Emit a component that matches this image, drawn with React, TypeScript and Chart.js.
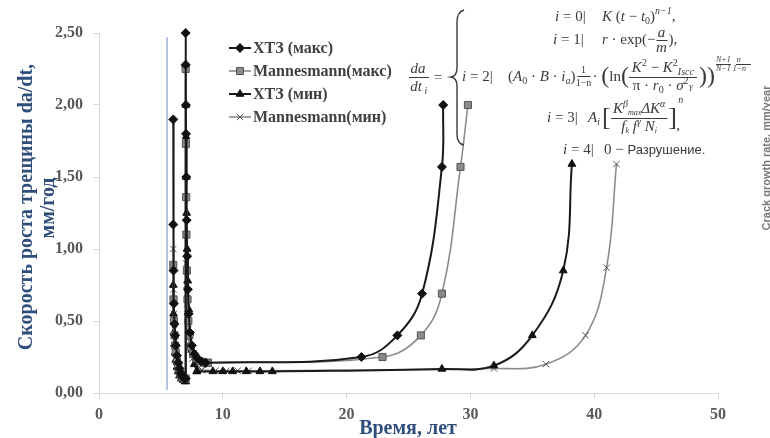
import React, { useEffect, useRef } from 'react';
import { Chart, registerables } from 'chart.js';

Chart.register(...registerables);

// ---- data ----
const legendLabels = ['ХТЗ (макс)', 'Mannesmann(макс)', 'ХТЗ (мин)', 'Mannesmann(мин)'];

const xtzMaxSpikeX = [6.0, 6.0, 6.02, 6.05, 6.1, 6.15, 6.2, 6.3, 6.4, 6.5, 6.6, 6.7, 6.8, 6.9, 7.0, 7.0, 7.0, 7.02, 7.03, 7.05, 7.08, 7.12, 7.18, 7.25, 7.35, 7.5, 7.7, 7.95, 8.25, 8.6];
const xtzMaxSpikeY = [1.90, 1.17, 0.85, 0.62, 0.48, 0.40, 0.33, 0.26, 0.21, 0.17, 0.14, 0.12, 0.11, 0.10, 0.10, 2.50, 2.28, 2.00, 1.80, 1.50, 1.20, 0.95, 0.72, 0.55, 0.42, 0.33, 0.27, 0.24, 0.22, 0.21];
const xtzMaxTailX = [8.6, 21.2, 24.1, 26.1, 27.7, 27.8];
const xtzMaxTailY = [0.21, 0.25, 0.40, 0.69, 1.57, 2.00];

const manMaxSpikeX = [6.0, 6.02, 6.05, 6.1, 6.15, 6.2, 6.3, 6.4, 6.5, 6.6, 6.75, 6.9, 7.0, 7.0, 7.02, 7.04, 7.06, 7.1, 7.15, 7.22, 7.3, 7.42, 7.6, 7.85, 8.15, 8.5, 8.8];
const manMaxSpikeY = [0.89, 0.65, 0.50, 0.40, 0.33, 0.28, 0.22, 0.18, 0.15, 0.13, 0.11, 0.10, 0.10, 2.25, 1.73, 1.36, 1.10, 0.85, 0.65, 0.50, 0.40, 0.32, 0.27, 0.24, 0.22, 0.21, 0.21];
const manMaxTailX = [8.8, 22.9, 26.0, 27.7, 29.2, 29.8];
const manMaxTailY = [0.21, 0.25, 0.40, 0.69, 1.57, 2.00];

const xtzMinSpikeX = [6.0, 6.02, 6.05, 6.1, 6.15, 6.2, 6.3, 6.4, 6.5, 6.65, 6.8, 6.95, 7.0, 7.0, 7.02, 7.03, 7.05, 7.08, 7.12, 7.17, 7.25, 7.35, 7.5, 7.7, 7.9];
const xtzMinSpikeY = [0.75, 0.55, 0.42, 0.34, 0.28, 0.23, 0.18, 0.15, 0.12, 0.10, 0.09, 0.08, 0.08, 2.28, 2.00, 1.78, 1.50, 1.25, 1.00, 0.78, 0.58, 0.42, 0.30, 0.20, 0.15];
const xtzMinTailX = [7.9, 9.2, 10.0, 10.8, 11.9, 13.0, 14.0, 27.7, 31.9, 35.0, 37.5, 38.2];
const xtzMinTailY = [0.15, 0.15, 0.15, 0.15, 0.15, 0.15, 0.15, 0.167, 0.19, 0.40, 0.85, 1.59];

const manMinSpikeX = [6.0, 6.02, 6.05, 6.1, 6.15, 6.2, 6.3, 6.4, 6.5, 6.65, 6.8, 6.95, 7.0, 7.0, 7.03, 7.06, 7.1, 7.15, 7.2, 7.3, 7.4, 7.55, 7.75, 8.0, 8.3];
const manMinSpikeY = [1.00, 0.72, 0.55, 0.44, 0.36, 0.30, 0.23, 0.18, 0.15, 0.12, 0.10, 0.09, 0.09, 1.10, 0.90, 0.75, 0.62, 0.52, 0.44, 0.36, 0.30, 0.24, 0.20, 0.17, 0.16];
const manMinTailX = [8.3, 9.4, 10.3, 11.2, 12.1, 31.9, 36.1, 39.3, 41.0, 41.8];
const manMinTailY = [0.16, 0.155, 0.155, 0.155, 0.155, 0.17, 0.20, 0.40, 0.87, 1.59];

const markerLineX = [5.5, 5.5];
const markerLineY = [0.02, 2.47];

const xTickStep = 10;
const yTickStep = 0.5;

// ---- styles ----
const seriesStyles = [
  { line: '#1a1a1a', point: 'rectRot', fill: '#111111', stroke: '#111111', r: 4.5, w: 2 },
  { line: '#8c8c8c', point: 'rect', fill: '#8a8a8a', stroke: '#555555', r: 5, w: 1.6 },
  { line: '#1a1a1a', point: 'triangle', fill: '#111111', stroke: '#111111', r: 4.5, w: 2 },
  { line: '#8c8c8c', point: 'crossRot', fill: '#555555', stroke: '#555555', r: 4.5, w: 1.6 },
];

const pts = (xs: number[], ys: number[]) => xs.map((x, i) => ({ x, y: ys[i] }));

function drawMarker(ctx: CanvasRenderingContext2D, style: string, x: number, y: number, r: number, fill: string, stroke: string) {
  ctx.save();
  ctx.fillStyle = fill;
  ctx.strokeStyle = stroke;
  ctx.lineWidth = 1;
  ctx.beginPath();
  if (style === 'rectRot') {
    ctx.moveTo(x, y - r); ctx.lineTo(x + r, y); ctx.lineTo(x, y + r); ctx.lineTo(x - r, y); ctx.closePath();
    ctx.fill(); ctx.stroke();
  } else if (style === 'rect') {
    const s = r * Math.SQRT1_2;
    ctx.rect(x - s, y - s, 2 * s, 2 * s); ctx.fill(); ctx.stroke();
  } else if (style === 'triangle') {
    const a = (2 * Math.PI) / 3;
    ctx.moveTo(x, y - r);
    ctx.lineTo(x + Math.sin(a) * r, y - Math.cos(a) * r);
    ctx.lineTo(x + Math.sin(2 * a) * r, y - Math.cos(2 * a) * r);
    ctx.closePath(); ctx.fill(); ctx.stroke();
  } else {
    const o = r * Math.SQRT1_2;
    ctx.moveTo(x - o, y - o); ctx.lineTo(x + o, y + o);
    ctx.moveTo(x + o, y - o); ctx.lineTo(x - o, y + o);
    ctx.stroke();
  }
  ctx.restore();
}

type Part = [string, string, number?];
function seq(ctx: CanvasRenderingContext2D, x: number, y: number, parts: Part[]) {
  let cx = x;
  for (const [t, f, dy] of parts) {
    ctx.font = f;
    ctx.fillText(t, cx, y + (dy || 0));
    cx += ctx.measureText(t).width;
  }
  return cx;
}
function seqWidth(ctx: CanvasRenderingContext2D, parts: Part[]) {
  let w = 0;
  for (const [t, f] of parts) { ctx.font = f; w += ctx.measureText(t).width; }
  return w;
}

const SERIF = '"Liberation Serif"';

const legendPlugin = {
  id: 'customLegend',
  afterDraw(chart: any) {
    const ctx: CanvasRenderingContext2D = chart.ctx;
    const rows = [48, 71, 94, 117];
    ctx.save();
    legendLabels.forEach((label, i) => {
      const st = seriesStyles[i];
      const y = rows[i];
      ctx.strokeStyle = st.line;
      ctx.lineWidth = st.w;
      ctx.beginPath(); ctx.moveTo(229, y); ctx.lineTo(251, y); ctx.stroke();
      drawMarker(ctx, st.point, 240, y, st.r, st.fill, st.stroke);
      ctx.fillStyle = '#404040';
      ctx.font = `bold 16px ${SERIF}`;
      ctx.textBaseline = 'middle';
      ctx.textAlign = 'left';
      ctx.fillText(label, 253, y + 1);
    });
    ctx.restore();
  },
};

const textPlugin = {
  id: 'extraText',
  afterDraw(chart: any) {
    const ctx: CanvasRenderingContext2D = chart.ctx;
    ctx.save();
    // axis titles
    ctx.fillStyle = '#2f4e7c';
    ctx.font = `bold 20px ${SERIF}`;
    ctx.textAlign = 'center';
    ctx.textBaseline = 'middle';
    ctx.save();
    ctx.translate(27, 207); ctx.rotate(-Math.PI / 2);
    ctx.fillText('Скорость роста трещины da/dt,', 0, 0);
    ctx.restore();
    ctx.save();
    ctx.translate(49, 208); ctx.rotate(-Math.PI / 2);
    ctx.fillText('мм/год', 0, 0);
    ctx.restore();
    ctx.fillText('Время, лет', 408, 429);

    // right edge rotated caption (cut off at the edge)
    ctx.save();
    ctx.fillStyle = '#777';
    ctx.font = 'bold 11px "Liberation Sans"';
    ctx.translate(767, 158); ctx.rotate(-Math.PI / 2);
    ctx.fillText('Crack growth rate, mm/year', 0, 0);
    ctx.restore();

    // formula
    const M = `italic 15px ${SERIF}`;
    const R = `15px ${SERIF}`;
    const S = `italic 10px ${SERIF}`;
    const SR = `10px ${SERIF}`;
    const T = `italic 8px ${SERIF}`;
    ctx.fillStyle = '#3a3a3a';
    ctx.strokeStyle = '#3a3a3a';
    ctx.textAlign = 'left';
    ctx.textBaseline = 'middle';
    ctx.lineWidth = 1;

    // da/dt_i =
    ctx.textAlign = 'center';
    ctx.font = M; ctx.fillText('da', 418, 69);
    ctx.font = M; ctx.fillText('dt', 416, 87);
    ctx.font = S; ctx.fillText('i', 426, 91);
    ctx.beginPath(); ctx.moveTo(409, 77.5); ctx.lineTo(429, 77.5); ctx.stroke();
    ctx.font = R; ctx.fillText('=', 438, 78);
    ctx.textAlign = 'left';

    // curly brace
    ctx.lineWidth = 1.4;
    ctx.beginPath();
    ctx.moveTo(464, 10);
    ctx.quadraticCurveTo(457, 12, 457, 22);
    ctx.lineTo(457, 68);
    ctx.quadraticCurveTo(457, 76, 451, 77);
    ctx.quadraticCurveTo(457, 78, 457, 86);
    ctx.lineTo(457, 134);
    ctx.quadraticCurveTo(457, 144, 464, 145);
    ctx.stroke();
    ctx.lineWidth = 1;

    // i = 0
    seq(ctx, 555, 17, [['i', M], [' = 0|', R]]);
    seq(ctx, 602, 17, [['K', M], [' (', R], ['t', M], [' − ', R], ['t', M], ['0', SR, 4], [')', R], ['n−1', S, -6], [',', R]]);

    // i = 1
    seq(ctx, 553, 40, [['i', M], [' = 1|', R]]);
    let cx = seq(ctx, 602, 40, [['r', M], [' · exp', R], ['(−', R]]);
    ctx.textAlign = 'center';
    ctx.font = M; ctx.fillText('a', cx + 6, 33); ctx.fillText('m', cx + 6, 48);
    ctx.beginPath(); ctx.moveTo(cx + 1, 40.5); ctx.lineTo(cx + 12, 40.5); ctx.stroke();
    ctx.textAlign = 'left';
    seq(ctx, cx + 13, 40, [['),', R]]);

    // i = 2
    seq(ctx, 462, 77, [['i', M], [' = 2|', R]]);
    cx = seq(ctx, 508, 77, [['(', R], ['A', M], ['0', SR, 4], [' · ', R], ['B', M], [' · ', R], ['i', M], ['a', S, 4], [')', R]]);
    ctx.textAlign = 'center';
    ctx.font = SR; ctx.fillText('1', cx + 8, 70); ctx.fillText('1−n', cx + 8, 83);
    ctx.beginPath(); ctx.moveTo(cx + 2, 76.5); ctx.lineTo(cx + 15, 76.5); ctx.stroke();
    ctx.textAlign = 'left';
    cx = seq(ctx, cx + 17, 77, [['· ', R], ['(', `24px ${SERIF}`], ['ln', R], ['(', `24px ${SERIF}`]]);
    const numParts: Part[] = [['K', M], ['2', SR, -5], [' − ', R], ['K', M], ['2', SR, -5], ['Iscc', S, 4]];
    const denParts: Part[] = [['π · ', R], ['r', M], ['0', SR, 4], [' · ', R], ['σ', M], ['2', SR, -5], ['Y', T, 3]];
    const fw = Math.max(seqWidth(ctx, numParts), seqWidth(ctx, denParts)) + 6;
    seq(ctx, cx + 3 + (fw - 6 - seqWidth(ctx, numParts)) / 2, 68, numParts);
    seq(ctx, cx + 3 + (fw - 6 - seqWidth(ctx, denParts)) / 2, 86, denParts);
    ctx.beginPath(); ctx.moveTo(cx, 77.5); ctx.lineTo(cx + fw, 77.5); ctx.stroke();
    cx = seq(ctx, cx + fw + 2, 77, [['))', `24px ${SERIF}`]]);
    ctx.font = T;
    ctx.fillText('N+1   n', cx + 1, 60);
    ctx.fillText('N−1 1−n', cx + 1, 69);
    ctx.beginPath(); ctx.moveTo(cx + 1, 64.5); ctx.lineTo(cx + 16, 64.5); ctx.moveTo(cx + 21, 64.5); ctx.lineTo(cx + 36, 64.5); ctx.stroke();

    // i = 3
    seq(ctx, 547, 118, [['i', M], [' = 3|', R]]);
    cx = seq(ctx, 588, 118, [['A', M], ['i', S, 4]]);
    ctx.font = `26px ${SERIF}`; ctx.fillText('[', cx + 2, 118);
    cx += 11;
    const n3: Part[] = [['K', M], ['β', S, -5], ['max', T, 4], ['ΔK', M], ['α', S, -5]];
    const d3: Part[] = [['f', M], ['k', T, 4], [' f', M], ['γ', S, -5], [' N', M], ['i', T, 4]];
    const w3 = Math.max(seqWidth(ctx, n3), seqWidth(ctx, d3)) + 4;
    seq(ctx, cx + 2 + (w3 - 4 - seqWidth(ctx, n3)) / 2, 109, n3);
    seq(ctx, cx + 2 + (w3 - 4 - seqWidth(ctx, d3)) / 2, 127, d3);
    ctx.beginPath(); ctx.moveTo(cx, 118.5); ctx.lineTo(cx + w3, 118.5); ctx.stroke();
    cx += w3 + 1;
    ctx.font = `26px ${SERIF}`; ctx.fillText(']', cx, 118);
    ctx.font = S; ctx.fillText('n', cx + 10, 100);
    ctx.font = R; ctx.fillText(',', cx + 8, 126);

    // i = 4
    seq(ctx, 563, 150, [['i', M], [' = 4|', R]]);
    seq(ctx, 604, 150, [['0 − ', R], ['Разрушение.', '13px "Liberation Sans"']]);

    ctx.restore();
  },
};

export default function App() {
  const ref = useRef<HTMLCanvasElement | null>(null);
  useEffect(() => {
    if (!ref.current) return;
    const spikes = [
      pts(xtzMaxSpikeX, xtzMaxSpikeY),
      pts(manMaxSpikeX, manMaxSpikeY),
      pts(xtzMinSpikeX, xtzMinSpikeY),
      pts(manMinSpikeX, manMinSpikeY),
    ];
    const tails = [
      pts(xtzMaxTailX, xtzMaxTailY),
      pts(manMaxTailX, manMaxTailY),
      pts(xtzMinTailX, xtzMinTailY),
      pts(manMinTailX, manMinTailY),
    ];
    const datasets: any[] = [];
    legendLabels.forEach((label, i) => {
      const st = seriesStyles[i];
      const common = {
        label,
        showLine: true,
        borderColor: st.line,
        borderWidth: st.w,
        pointStyle: st.point,
        pointRadius: st.r,
        pointBackgroundColor: st.fill,
        pointBorderColor: st.stroke,
        pointBorderWidth: 1,
        clip: false,
      };
      datasets.push({ ...common, data: tails[i], tension: 0.4 });
      datasets.push({ ...common, data: spikes[i], tension: 0 });
    });
    datasets.push({
      label: 'marker',
      data: pts(markerLineX, markerLineY),
      showLine: true,
      borderColor: '#9fb4d6',
      borderWidth: 1.5,
      pointRadius: 0,
      tension: 0,
      clip: false,
    });

    const tickFont = { family: SERIF, size: 16, weight: 'bold' as const };
    const chart = new Chart(ref.current, {
      type: 'scatter',
      data: { datasets },
      options: {
        responsive: false,
        animation: false,
        devicePixelRatio: 1,
        layout: { padding: { top: 33, right: 52, left: 0, bottom: 0 } },
        plugins: { legend: { display: false }, tooltip: { enabled: false } },
        scales: {
          x: {
            type: 'linear',
            min: 0,
            max: 50,
            ticks: { stepSize: xTickStep, color: '#595959', font: tickFont, padding: 6 },
            grid: { drawOnChartArea: false, color: '#d9d9d9', tickLength: 6 },
            border: { color: '#d9d9d9' },
            afterFit: (s: any) => { s.height = 45; },
          },
          y: {
            type: 'linear',
            min: 0,
            max: 2.5,
            ticks: {
              stepSize: yTickStep,
              color: '#595959',
              font: tickFont,
              padding: 10,
              callback: (v: any) => Number(v).toFixed(2).replace('.', ','),
            },
            grid: { drawOnChartArea: false, color: '#d9d9d9', tickLength: 6 },
            border: { color: '#d9d9d9' },
            afterFit: (s: any) => { s.width = 99; },
          },
        },
      },
      plugins: [legendPlugin, textPlugin],
    });
    return () => chart.destroy();
  }, []);

  return (
    <div style={{ position: 'absolute', left: 0, top: 0, width: 770, height: 438, background: '#fff' }}>
      <canvas ref={ref} width={770} height={438} style={{ display: 'block' }} />
    </div>
  );
}
